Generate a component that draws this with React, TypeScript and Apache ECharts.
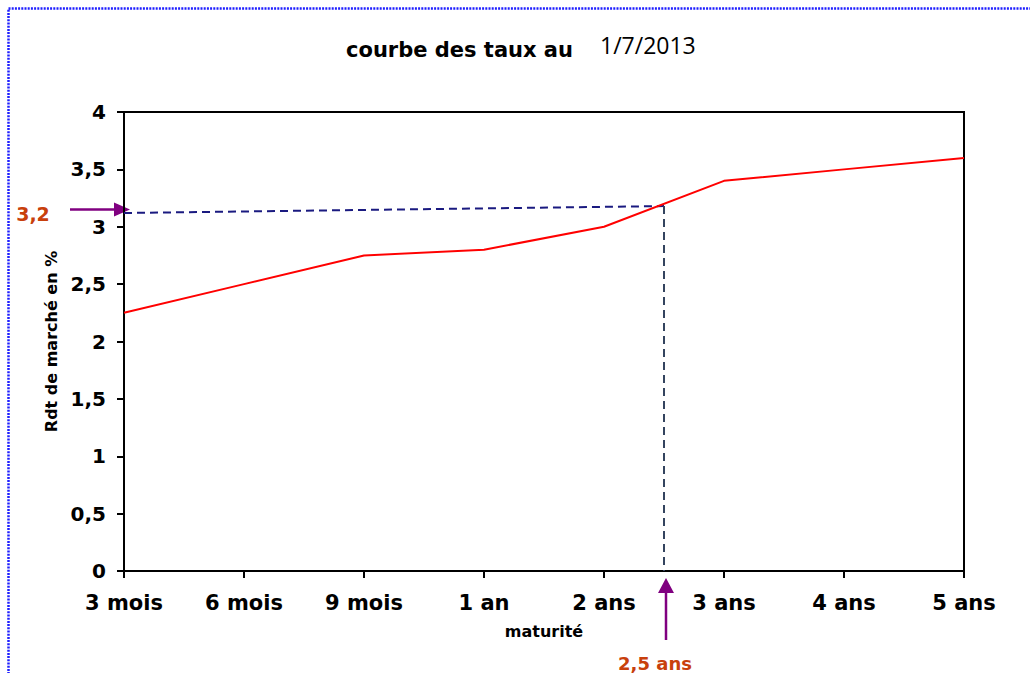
import React, { useEffect, useRef } from "react";
import * as echarts from "echarts";

const categories = ["3 mois", "6 mois", "9 mois", "1 an", "2 ans", "3 ans", "4 ans", "5 ans"];
const rates = [2.25, 2.5, 2.75, 2.8, 3.0, 3.4, 3.5, 3.6];
const guideHorizontal = [[0, 3.12], [4.5, 3.18]];
const guideVertical = [[4.5, 3.18], [4.5, 0]];
const readMaturityIndex = 4.5;
const readRate = 3.15;
const rateLabel = "3,2";
const maturityLabel = "2,5 ans";
const titleBold = "courbe des taux au";
const titleDate = "1/7/2013";

const FONT = "DejaVu Sans";
const PURPLE = "#800080";
const ORANGE = "#c8400c";

export default function App() {
  const ref = useRef<HTMLDivElement>(null);
  useEffect(() => {
    const el = ref.current!;
    const chart = echarts.init(el, undefined, { renderer: "svg" });
    chart.setOption({
      animation: false,
      backgroundColor: "#ffffff",
      grid: {
        left: 124, top: 112, right: 66, bottom: 102,
        show: true, borderColor: "#000", borderWidth: 2, backgroundColor: "transparent",
      },
      xAxis: {
        type: "value", min: 0, max: categories.length - 1, interval: 1,
        name: "maturité", nameLocation: "middle", nameGap: 52,
        nameTextStyle: { fontFamily: FONT, fontWeight: "bold", fontSize: 16, color: "#000" },
        axisLine: { show: true, lineStyle: { color: "#000", width: 2 } },
        axisTick: { show: true, length: 7, lineStyle: { color: "#000", width: 2 } },
        splitLine: { show: false },
        axisLabel: {
          margin: 21, fontFamily: FONT, fontWeight: "bold", fontSize: 21, color: "#000",
          formatter: (v: number) => categories[Math.round(v)] ?? "",
        },
      },
      yAxis: {
        type: "value", min: 0, max: 4, interval: 0.5,
        name: "Rdt de marché en %", nameLocation: "middle", nameGap: 57, nameRotate: 90,
        nameTextStyle: { fontFamily: FONT, fontWeight: "bold", fontSize: 16, color: "#000" },
        axisLine: { show: true, lineStyle: { color: "#000", width: 2 } },
        axisTick: { show: true, length: 7, lineStyle: { color: "#000", width: 2 } },
        splitLine: { show: false },
        axisLabel: {
          margin: 18, fontFamily: FONT, fontWeight: "bold", fontSize: 20, color: "#000",
          formatter: (v: number) => String(v).replace(".", ","),
        },
      },
      series: [
        {
          type: "line", data: guideHorizontal, symbol: "none", silent: true,
          lineStyle: { color: "#1a1a80", width: 2, type: [8, 5] },
        },
        {
          type: "line", data: guideVertical, symbol: "none", silent: true,
          lineStyle: { color: "#34445f", width: 2, type: [8, 5] },
        },
        {
          type: "line", data: rates.map((v, i) => [i, v]), symbol: "none",
          lineStyle: { color: "#ff0000", width: 2 },
        },
      ],
    });

    const [ax, ay] = chart.convertToPixel({ gridIndex: 0 }, [0, readRate]) as number[];
    const [bx, by] = chart.convertToPixel({ gridIndex: 0 }, [readMaturityIndex, 0]) as number[];
    const tipL = ax + 6;
    const tipB = by + 7;
    const mx = bx + 2;

    chart.setOption({
      graphic: [
        {
          type: "rect", id: "border", silent: true, z: 100,
          shape: { x: 8.5, y: 8.5, width: 1100, height: 1100 },
          style: { fill: "none", stroke: "#1f1fff", lineWidth: 2.5, lineDash: [2, 1.2] },
        },
        {
          type: "text", id: "t1", x: 346, y: 50,
          style: { text: titleBold, font: `bold 21px '${FONT}'`, fill: "#000", textVerticalAlign: "middle" },
        },
        {
          type: "text", id: "t2", x: 600, y: 45,
          style: { text: titleDate, font: `23px 'Open Sans'`, fill: "#000", textVerticalAlign: "middle" },
        },
        {
          type: "line", id: "la", shape: { x1: 70, y1: ay, x2: tipL - 12, y2: ay },
          style: { stroke: PURPLE, lineWidth: 2.5 },
        },
        {
          type: "polygon", id: "lh",
          shape: { points: [[tipL, ay], [tipL - 16, ay - 7], [tipL - 16, ay + 7]] },
          style: { fill: PURPLE },
        },
        {
          type: "text", id: "lt", x: 33, y: ay + 4,
          style: { text: rateLabel, font: `bold 19px '${FONT}'`, fill: ORANGE, textAlign: "center", textVerticalAlign: "middle" },
        },
        {
          type: "line", id: "ba", shape: { x1: mx, y1: 640, x2: mx, y2: tipB + 12 },
          style: { stroke: PURPLE, lineWidth: 2.5 },
        },
        {
          type: "polygon", id: "bh",
          shape: { points: [[mx, tipB], [mx - 8, tipB + 15], [mx + 8, tipB + 15]] },
          style: { fill: PURPLE },
        },
        {
          type: "text", id: "bt", x: mx - 11, y: 663,
          style: { text: maturityLabel, font: `bold 18px '${FONT}'`, fill: ORANGE, textAlign: "center", textVerticalAlign: "middle" },
        },
      ],
    });

    return () => chart.dispose();
  }, []);
  return (
    <div
      ref={ref}
      style={{ position: "fixed", left: 0, top: 0, width: 1030, height: 673 }}
    />
  );
}
